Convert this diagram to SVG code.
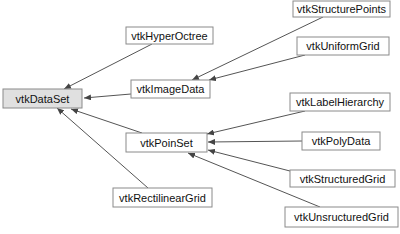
<svg xmlns="http://www.w3.org/2000/svg" width="400" height="234" viewBox="0 0 400 234">
<style>
.n rect{fill:#fff;stroke:#8a8a8a;stroke-width:1}
.n text{font-family:"Liberation Sans",Arial,sans-serif;font-size:11px;fill:#111;text-anchor:middle;dominant-baseline:central}
#dataset rect{fill:#e0e0e0}
.e line{stroke:#555;stroke-width:1;marker-end:url(#ah)}
</style>
<defs>
<marker id="ah" markerWidth="8" markerHeight="6" refX="7" refY="3" orient="auto" markerUnits="userSpaceOnUse">
<path d="M0,0 L7,3 L0,6 Z" fill="#444"/>
</marker>
</defs>
<g class="e" id="connectors">
<line x1="152" y1="44" x2="64" y2="89"/>
<line x1="131" y1="94" x2="84" y2="98"/>
<line x1="142" y1="133" x2="71" y2="109"/>
<line x1="148" y1="188" x2="57" y2="108"/>
<line x1="323" y1="17" x2="192" y2="80"/>
<line x1="305" y1="55" x2="209" y2="80"/>
<line x1="305" y1="111" x2="207" y2="134"/>
<line x1="302" y1="141" x2="208" y2="142"/>
<line x1="290" y1="171" x2="208" y2="150"/>
<line x1="320" y1="207" x2="188" y2="153"/>
</g>
<g class="n" id="dataset"><rect x="3" y="89" width="79" height="19"/><text x="42.5" y="98.5">vtkDataSet</text></g>
<g class="n" id="hyperoctree"><rect x="126" y="27" width="87" height="17"/><text x="169.5" y="35.5">vtkHyperOctree</text></g>
<g class="n" id="imagedata"><rect x="131" y="80" width="79" height="18"/><text x="170.5" y="89">vtkImageData</text></g>
<g class="n" id="structurepoints"><rect x="293" y="1" width="97" height="16"/><text x="341.5" y="9">vtkStructurePoints</text></g>
<g class="n" id="uniformgrid"><rect x="297" y="37" width="92" height="18"/><text x="343" y="46">vtkUniformGrid</text></g>
<g class="n" id="poinset"><rect x="126" y="133" width="81" height="19"/><text x="166.5" y="142.5">vtkPoinSet</text></g>
<g class="n" id="rectilineargrid"><rect x="113" y="188" width="99" height="19"/><text x="162.5" y="197.5">vtkRectilinearGrid</text></g>
<g class="n" id="labelhierarchy"><rect x="290" y="93" width="100" height="18"/><text x="340" y="102">vtkLabelHierarchy</text></g>
<g class="n" id="polydata"><rect x="302" y="132" width="78" height="18"/><text x="341" y="141">vtkPolyData</text></g>
<g class="n" id="structuredgrid"><rect x="290" y="170" width="105" height="17"/><text x="342.5" y="178.5">vtkStructuredGrid</text></g>
<g class="n" id="unsructuredgrid"><rect x="285" y="207" width="113" height="20"/><text x="341.5" y="217">vtkUnsructuredGrid</text></g>
</svg>
